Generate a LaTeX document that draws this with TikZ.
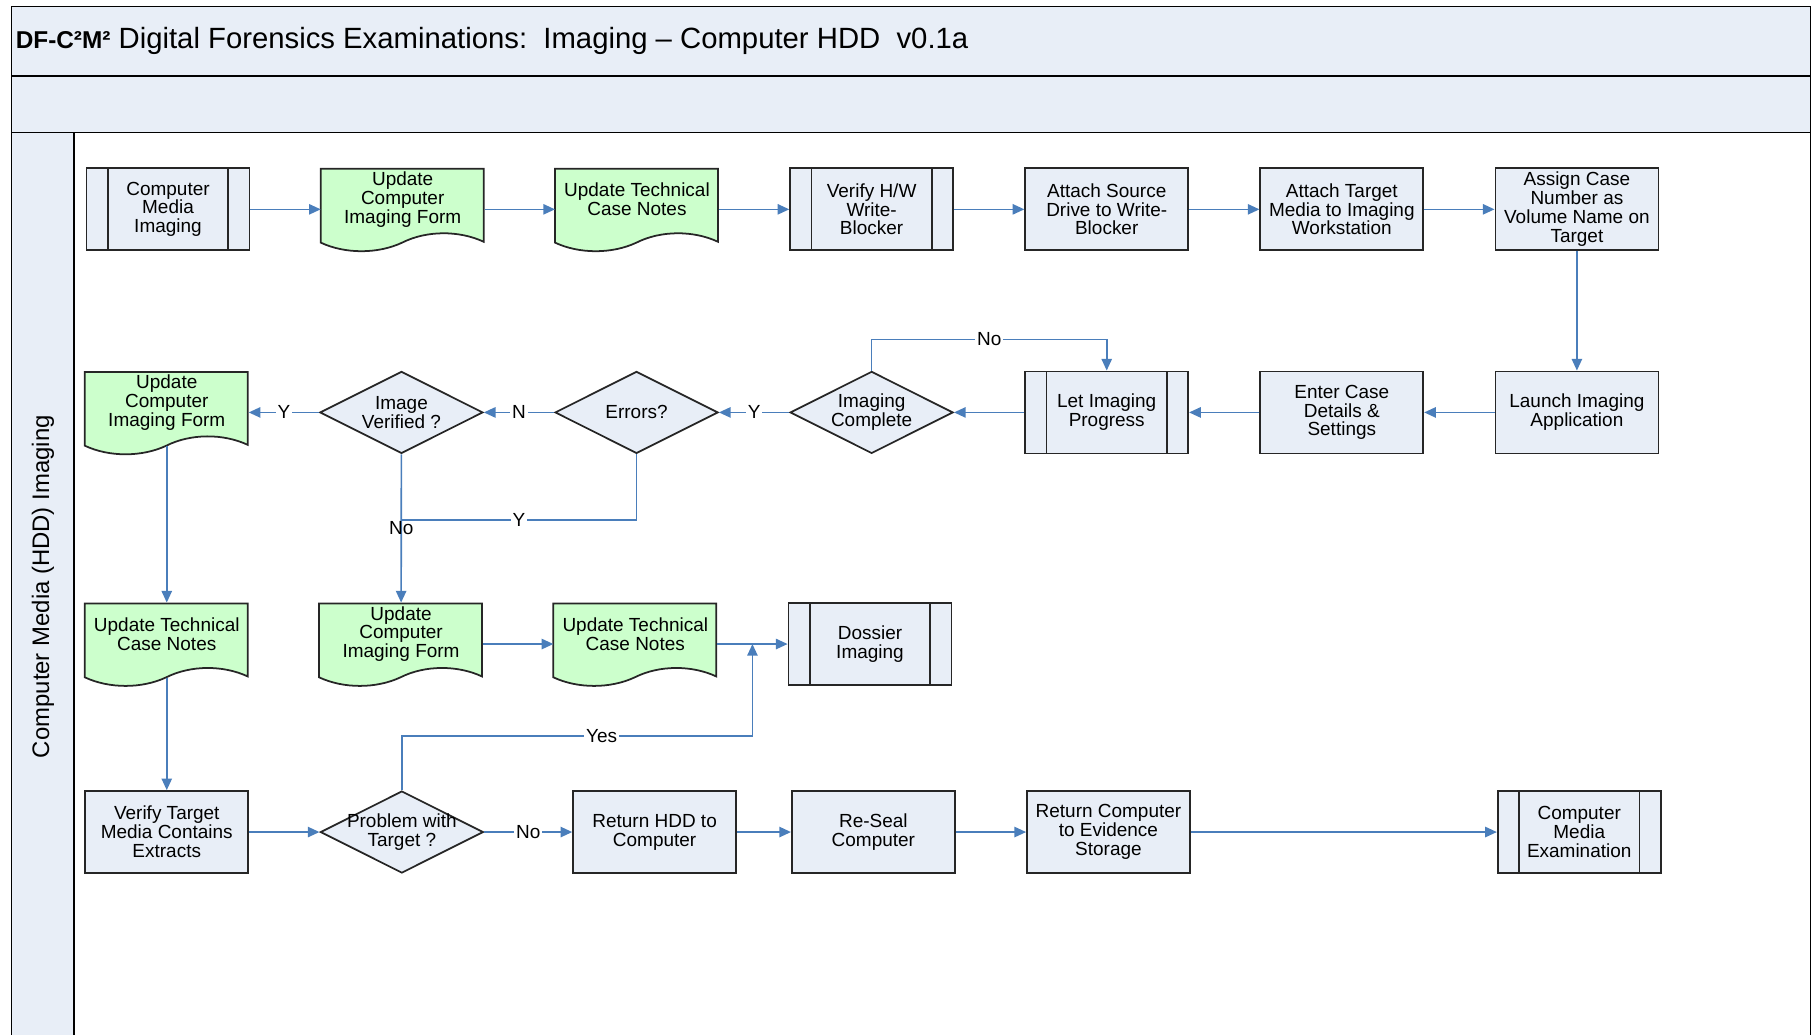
\documentclass[tikz,border=0pt]{standalone}
\usepackage{fontspec}
\setmainfont{Liberation Sans}
\usepackage{tikz}
\usetikzlibrary{arrows.meta, positioning, shapes.geometric, backgrounds, calc}
\usepackage{xcolor}

\definecolor{hdfill}{RGB}{232,238,247}
\definecolor{hdgreen}{RGB}{204,255,204}
\definecolor{hdblue}{RGB}{74,126,187}

% document outline with the wavy bottom, drawn round an empty node
\newcommand\hddocshape[1]{%
  \begin{scope}[shift={(#1.south west)}, x=24.45mm, y=12.3mm]
    \draw[fill=hdgreen, draw=black!85, line width=0.75pt]
      (0,0.1) -- (0,1) -- (1,1) -- (1,0.11)
      .. controls (0.85,0.25) and (0.65,0.25) .. (0.5,0.1)
      .. controls (0.35,-0.04) and (0.15,-0.04) .. (0,0.1) -- cycle;
  \end{scope}}

\begin{document}
\begin{tikzpicture}[
  hdtext/.style={font=\fontsize{8.1}{8.05}\selectfont, align=center},
  hdbox/.style={hdtext, draw=black!85, fill=hdfill, line width=0.75pt,
                minimum width=24.45mm, minimum height=12.3mm, inner sep=1pt},
  hdsub/.style={hdbox, path picture={
      \draw[black!85, line width=0.75pt]
        ([xshift=3.2mm]path picture bounding box.north west) --
        ([xshift=3.2mm]path picture bounding box.south west)
        ([xshift=-3.2mm]path picture bounding box.north east) --
        ([xshift=-3.2mm]path picture bounding box.south east);}},
  hddec/.style={hdbox, diamond, aspect=2, inner sep=-1.5mm},
  hddoc/.style={minimum width=24.45mm, minimum height=12.3mm, inner sep=0pt,
                label={[hdtext, yshift=1.5mm]center:{#1}}},
  hdarr/.style={-{Triangle[length=1.75mm, width=1.55mm]}, draw=hdblue, line width=0.7pt},
  hdline/.style={draw=hdblue, line width=0.7pt},
  hdlbl/.style={hdtext, fill=white, inner sep=0.8pt},
  node distance=17.9mm and 10.55mm
]
\useasboundingbox (0,0) rectangle (271.8mm,-155.25mm);

% ---------------------------------------------- pool, title band, lane
\draw[fill=hdfill, line width=0.6pt] (1.75mm,-1.0mm) rectangle (271.6mm,-11.4mm);
\draw[fill=hdfill, line width=0.6pt] (1.75mm,-11.4mm) rectangle (271.6mm,-19.9mm);
\draw[fill=hdfill, line width=0.6pt] (1.75mm,-155.6mm) |- (11.1mm,-19.9mm) -- (11.1mm,-155.6mm);
\draw[line width=0.6pt] (271.6mm,-19.9mm) -- (271.6mm,-155.6mm);

\node[anchor=west, inner sep=0pt, font=\fontsize{12.5}{14}\selectfont] (title) at (2.3mm,-6.2mm)
  {{\bfseries\fontsize{10.4}{12}\selectfont DF-C²M²} Digital Forensics Examinations:\ \ Imaging – Computer HDD\ \ v0.1a};
\node[rotate=90, font=\fontsize{10.2}{12}\selectfont] (lane) at (6.45mm,-88mm)
  {Computer Media (HDD) Imaging};

% ---------------------------------------------- row 1, left to right
\node[hdsub] (cmimg) at (25.2mm,-31.4mm) {Computer\\Media\\Imaging};
\node[hddoc={Update\\Computer\\Imaging Form}, right=of cmimg] (form1) {};
\node[hddoc={Update Technical\\Case Notes}, right=of form1] (notes1) {};
\node[hdsub, right=of notes1] (verifyhw) {Verify H/W\\Write-\\Blocker};
\node[hdbox, right=of verifyhw] (attsrc) {Attach Source\\Drive to Write-\\Blocker};
\node[hdbox, right=of attsrc] (atttgt) {Attach Target\\Media to Imaging\\Workstation};
\node[hdbox, right=of atttgt] (assign) {Assign Case\\Number as\\Volume Name on\\Target};

% ---------------------------------------------- row 2, right to left
\node[hdbox, below=of assign] (launch) {Launch Imaging\\Application};
\node[hdbox, left=of launch] (enter) {Enter Case\\Details \&\\Settings};
\node[hdsub, left=of enter] (letprog) {Let Imaging\\Progress};
\node[hddec, left=of letprog] (imgdone) {Imaging\\Complete};
\node[hddec, left=of imgdone] (errors) {Errors?};
\node[hddec, left=of errors] (imgok) {Image\\Verified ?};
\node[hddoc={Update\\Computer\\Imaging Form}, left=of imgok] (form2) {};

% ---------------------------------------------- row 3
\node[hddoc={Update Technical\\Case Notes}, below=22.3mm of form2] (notes2) {};
\node[hddoc={Update\\Computer\\Imaging Form}, right=of notes2] (form3) {};
\node[hddoc={Update Technical\\Case Notes}, right=of form3] (notes3) {};
\node[hdsub, right=of notes3] (dossier) {Dossier\\Imaging};

% ---------------------------------------------- row 4
\node[hdbox, below=15.7mm of notes2] (vertgt) {Verify Target\\Media Contains\\Extracts};
\node[hddec, right=of vertgt] (problem) {Problem with\\Target ?};
\node[hdbox, right=13.2mm of problem] (rethdd) {Return HDD to\\Computer};
\node[hdbox, right=8.1mm of rethdd] (reseal) {Re-Seal\\Computer};
\node[hdbox, right=of reseal] (retcomp) {Return Computer\\to Evidence\\Storage};
\node[hdsub, right=45.9mm of retcomp] (cmexam) {Computer\\Media\\Examination};

\begin{scope}[on background layer]
  \foreach \d in {form1,notes1,form2,notes2,form3,notes3}
    \hddocshape{\d};
\end{scope}

% ---------------------------------------------- connectors
\draw[hdarr] (cmimg) -- (form1);
\draw[hdarr] (form1) -- (notes1);
\draw[hdarr] (notes1) -- (verifyhw);
\draw[hdarr] (verifyhw) -- (attsrc);
\draw[hdarr] (attsrc) -- (atttgt);
\draw[hdarr] (atttgt) -- (assign);
\draw[hdarr] (assign) -- (launch);
\draw[hdarr] (launch) -- (enter);
\draw[hdarr] (enter) -- (letprog);
\draw[hdarr] (letprog) -- (imgdone);

\draw[hdarr] (imgdone.north) |- ($(letprog.north)+(0,4.65mm)$)
  node[hdlbl, pos=0.75] {No} -- (letprog.north);
\draw[hdarr] (imgdone) -- node[hdlbl] {Y} (errors);
\draw[hdarr] (errors) -- node[hdlbl] {N} (imgok);
\draw[hdarr] (imgok) -- node[hdlbl] {Y} (form2);

\coordinate (okjoin) at ($(imgok.south)!0.445!(form3.north)$);
\draw[hdarr] (imgok) -- node[hdlbl, fill=none] {No} (form3);
\draw[hdline] (errors.south) |- node[hdlbl, pos=0.75] {Y} (okjoin);

\draw[hdarr] ([yshift=1.2mm]form2.south) -- (notes2.north);
\draw[hdarr] ([yshift=1.2mm]notes2.south) -- (vertgt);
\draw[hdarr] (form3) -- (notes3);
\draw[hdarr] (notes3) -- (dossier);

\coordinate (dsjoin) at ($(notes3.east)!0.5!(dossier.west)$);
\draw[hdarr] (problem.north) -- ++(0,8.15mm) -| node[hdlbl, pos=0.285] {Yes} (dsjoin);

\draw[hdarr] (vertgt) -- (problem);
\draw[hdarr] (problem) -- node[hdlbl] {No} (rethdd);
\draw[hdarr] (rethdd) -- (reseal);
\draw[hdarr] (reseal) -- (retcomp);
\draw[hdarr] (retcomp) -- (cmexam);

\end{tikzpicture}
\end{document}
